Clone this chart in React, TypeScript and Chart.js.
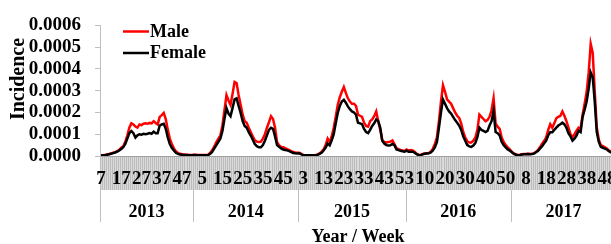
import React, { useEffect, useRef } from "react";
import { Chart, registerables } from "chart.js";

Chart.register(...registerables);

// ---- Data ----
const years = [2013, 2014, 2015, 2016, 2017];
const firstWeeks = [7, 1, 1, 1, 1];
const lastWeeks = [52, 52, 53, 52, 52];
const seriesNames = ["Male", "Female"];
const seriesColors = ["#ff0000", "#000000"];
const yMin = 0;
const yMax = 0.0006;
const yStep = 0.0001;
const xTitle = "Year / Week";
const yTitle = "Incidence";

const male2013 = [0.02e-4, 0.03e-4, 0.05e-4, 0.07e-4, 0.09e-4, 0.12e-4, 0.15e-4, 0.18e-4, 0.22e-4, 0.28e-4, 0.38e-4, 0.45e-4, 0.65e-4, 0.95e-4, 1.3e-4, 1.5e-4, 1.45e-4, 1.35e-4, 1.3e-4, 1.45e-4, 1.42e-4, 1.48e-4, 1.5e-4, 1.48e-4, 1.52e-4, 1.5e-4, 1.6e-4, 1.52e-4, 1.45e-4, 1.8e-4, 1.88e-4, 1.98e-4, 1.7e-4, 1.2e-4, 0.8e-4, 0.55e-4, 0.35e-4, 0.22e-4, 0.14e-4, 0.1e-4, 0.08e-4, 0.07e-4, 0.06e-4, 0.06e-4, 0.05e-4, 0.05e-4];
const female2013 = [0.02e-4, 0.03e-4, 0.04e-4, 0.06e-4, 0.08e-4, 0.1e-4, 0.13e-4, 0.16e-4, 0.2e-4, 0.25e-4, 0.32e-4, 0.4e-4, 0.55e-4, 0.8e-4, 1.05e-4, 1.15e-4, 1.05e-4, 0.85e-4, 0.95e-4, 1.0e-4, 0.98e-4, 1.02e-4, 1.0e-4, 1.02e-4, 1.05e-4, 1.02e-4, 1.12e-4, 1.05e-4, 1.05e-4, 1.4e-4, 1.45e-4, 1.48e-4, 1.25e-4, 0.85e-4, 0.55e-4, 0.38e-4, 0.25e-4, 0.15e-4, 0.1e-4, 0.07e-4, 0.06e-4, 0.05e-4, 0.05e-4, 0.04e-4, 0.04e-4, 0.04e-4];

const male2014 = [0.06e-4, 0.06e-4, 0.05e-4, 0.05e-4, 0.05e-4, 0.05e-4, 0.05e-4, 0.06e-4, 0.15e-4, 0.27e-4, 0.45e-4, 0.64e-4, 0.8e-4, 0.95e-4, 1.4e-4, 2.1e-4, 2.8e-4, 2.55e-4, 2.35e-4, 2.85e-4, 3.4e-4, 3.35e-4, 2.8e-4, 2.35e-4, 1.9e-4, 1.6e-4, 1.53e-4, 1.3e-4, 1.1e-4, 0.9e-4, 0.72e-4, 0.66e-4, 0.64e-4, 0.66e-4, 0.8e-4, 1.0e-4, 1.3e-4, 1.55e-4, 1.83e-4, 1.7e-4, 1.3e-4, 0.64e-4, 0.5e-4, 0.42e-4, 0.4e-4, 0.36e-4, 0.32e-4, 0.27e-4, 0.22e-4, 0.18e-4, 0.16e-4, 0.15e-4];
const female2014 = [0.05e-4, 0.04e-4, 0.04e-4, 0.04e-4, 0.04e-4, 0.04e-4, 0.04e-4, 0.05e-4, 0.1e-4, 0.2e-4, 0.35e-4, 0.5e-4, 0.65e-4, 0.8e-4, 1.15e-4, 1.7e-4, 2.2e-4, 1.95e-4, 1.83e-4, 2.2e-4, 2.6e-4, 2.65e-4, 2.3e-4, 1.98e-4, 1.6e-4, 1.38e-4, 1.3e-4, 1.1e-4, 0.94e-4, 0.75e-4, 0.55e-4, 0.45e-4, 0.4e-4, 0.4e-4, 0.5e-4, 0.7e-4, 0.95e-4, 1.2e-4, 1.3e-4, 1.25e-4, 0.9e-4, 0.5e-4, 0.42e-4, 0.35e-4, 0.3e-4, 0.28e-4, 0.26e-4, 0.22e-4, 0.18e-4, 0.14e-4, 0.12e-4, 0.11e-4];

const male2015 = [0.15e-4, 0.1e-4, 0.04e-4, 0.04e-4, 0.04e-4, 0.04e-4, 0.04e-4, 0.04e-4, 0.05e-4, 0.07e-4, 0.12e-4, 0.2e-4, 0.3e-4, 0.5e-4, 0.8e-4, 0.64e-4, 0.9e-4, 1.3e-4, 1.8e-4, 2.35e-4, 2.7e-4, 2.95e-4, 3.17e-4, 2.9e-4, 2.65e-4, 2.5e-4, 2.4e-4, 2.4e-4, 2.3e-4, 1.9e-4, 1.85e-4, 1.8e-4, 1.53e-4, 1.38e-4, 1.35e-4, 1.6e-4, 1.68e-4, 1.83e-4, 2.05e-4, 1.6e-4, 1.2e-4, 0.71e-4, 0.65e-4, 0.62e-4, 0.64e-4, 0.66e-4, 0.71e-4, 0.55e-4, 0.36e-4, 0.32e-4, 0.28e-4, 0.25e-4, 0.22e-4];
const female2015 = [0.12e-4, 0.08e-4, 0.03e-4, 0.03e-4, 0.03e-4, 0.03e-4, 0.03e-4, 0.03e-4, 0.03e-4, 0.05e-4, 0.1e-4, 0.15e-4, 0.25e-4, 0.38e-4, 0.57e-4, 0.49e-4, 0.72e-4, 1.0e-4, 1.5e-4, 1.98e-4, 2.3e-4, 2.5e-4, 2.58e-4, 2.45e-4, 2.28e-4, 2.15e-4, 2.05e-4, 2.0e-4, 1.9e-4, 1.53e-4, 1.5e-4, 1.46e-4, 1.24e-4, 1.1e-4, 1.05e-4, 1.2e-4, 1.38e-4, 1.5e-4, 1.68e-4, 1.6e-4, 1.3e-4, 0.7e-4, 0.57e-4, 0.5e-4, 0.48e-4, 0.49e-4, 0.55e-4, 0.5e-4, 0.3e-4, 0.27e-4, 0.24e-4, 0.22e-4, 0.2e-4];

const male2016 = [0.3e-4, 0.25e-4, 0.27e-4, 0.25e-4, 0.2e-4, 0.1e-4, 0.05e-4, 0.05e-4, 0.1e-4, 0.12e-4, 0.13e-4, 0.14e-4, 0.2e-4, 0.34e-4, 0.55e-4, 0.86e-4, 1.6e-4, 2.5e-4, 3.25e-4, 2.95e-4, 2.6e-4, 2.5e-4, 2.4e-4, 2.2e-4, 2.0e-4, 1.85e-4, 1.75e-4, 1.5e-4, 1.1e-4, 0.85e-4, 0.68e-4, 0.62e-4, 0.62e-4, 0.7e-4, 0.85e-4, 1.2e-4, 1.9e-4, 1.8e-4, 1.7e-4, 1.6e-4, 1.65e-4, 1.8e-4, 2.1e-4, 2.65e-4, 1.5e-4, 1.35e-4, 1.25e-4, 0.85e-4, 0.65e-4, 0.5e-4, 0.4e-4, 0.3e-4];
const female2016 = [0.25e-4, 0.2e-4, 0.2e-4, 0.2e-4, 0.15e-4, 0.08e-4, 0.04e-4, 0.04e-4, 0.08e-4, 0.1e-4, 0.11e-4, 0.12e-4, 0.16e-4, 0.25e-4, 0.4e-4, 0.64e-4, 1.3e-4, 2.0e-4, 2.6e-4, 2.4e-4, 2.2e-4, 2.05e-4, 1.95e-4, 1.8e-4, 1.65e-4, 1.53e-4, 1.4e-4, 1.2e-4, 0.9e-4, 0.7e-4, 0.5e-4, 0.44e-4, 0.42e-4, 0.48e-4, 0.6e-4, 0.86e-4, 1.3e-4, 1.2e-4, 1.15e-4, 1.1e-4, 1.15e-4, 1.4e-4, 1.6e-4, 2.08e-4, 1.1e-4, 1.05e-4, 0.95e-4, 0.65e-4, 0.5e-4, 0.4e-4, 0.3e-4, 0.25e-4];

const male2017 = [0.2e-4, 0.12e-4, 0.08e-4, 0.05e-4, 0.06e-4, 0.08e-4, 0.09e-4, 0.09e-4, 0.1e-4, 0.09e-4, 0.1e-4, 0.13e-4, 0.2e-4, 0.28e-4, 0.42e-4, 0.57e-4, 0.7e-4, 0.86e-4, 1.2e-4, 1.46e-4, 1.3e-4, 1.5e-4, 1.73e-4, 1.8e-4, 1.85e-4, 2.05e-4, 1.85e-4, 1.6e-4, 1.3e-4, 1.0e-4, 0.86e-4, 1.0e-4, 1.16e-4, 1.3e-4, 1.25e-4, 1.9e-4, 2.4e-4, 2.95e-4, 3.84e-4, 5.15e-4, 4.73e-4, 2.95e-4, 1.3e-4, 0.75e-4, 0.5e-4, 0.45e-4, 0.4e-4, 0.34e-4, 0.25e-4, 0.19e-4, 0.16e-4, 0.13e-4];
const female2017 = [0.17e-4, 0.1e-4, 0.06e-4, 0.04e-4, 0.05e-4, 0.07e-4, 0.08e-4, 0.08e-4, 0.09e-4, 0.08e-4, 0.09e-4, 0.11e-4, 0.17e-4, 0.24e-4, 0.35e-4, 0.45e-4, 0.58e-4, 0.71e-4, 0.95e-4, 1.09e-4, 1.09e-4, 1.2e-4, 1.3e-4, 1.4e-4, 1.46e-4, 1.53e-4, 1.45e-4, 1.3e-4, 1.05e-4, 0.9e-4, 0.71e-4, 0.8e-4, 0.94e-4, 1.16e-4, 1.1e-4, 1.8e-4, 2.13e-4, 2.5e-4, 3.1e-4, 3.84e-4, 3.62e-4, 2.5e-4, 1.1e-4, 0.65e-4, 0.42e-4, 0.38e-4, 0.34e-4, 0.3e-4, 0.22e-4, 0.17e-4, 0.14e-4, 0.11e-4];

const maleSeries = [male2013, male2014, male2015, male2016, male2017];
const femaleSeries = [female2013, female2014, female2015, female2016, female2017];

// categories
const weekNums: number[] = [];
const categories: string[] = [];
years.forEach((yr, k) => {
  for (let w = firstWeeks[k]; w <= lastWeeks[k]; w++) {
    weekNums.push(w);
    categories.push(`${yr}-${w}`);
  }
});

const FONT = "'Liberation Serif', 'Times New Roman', serif";
const PLOT_LEFT = 100;
const PLOT_TOP = 21;
const X_AXIS_H = 88;
const BAND = 34;

const decor = {
  id: "decor",
  beforeDraw(chart: any) {
    const { ctx, chartArea } = chart;
    ctx.save();
    ctx.fillStyle = "#dadada";
    ctx.fillRect(chartArea.left, chartArea.bottom, chartArea.right - chartArea.left, BAND);
    ctx.restore();
  },
  afterDraw(chart: any) {
    const { ctx, chartArea } = chart;
    const x = chart.scales.x;
    const step = x.getPixelForValue(1) - x.getPixelForValue(0);
    const bandBottom = chartArea.bottom + BAND;
    ctx.save();
    ctx.font = `bold 18px ${FONT}`;
    ctx.fillStyle = "#000";
    ctx.textAlign = "center";
    ctx.textBaseline = "middle";
    ctx.strokeStyle = "#bfbfbf";
    ctx.lineWidth = 1;
    let idx = 0;
    years.forEach((yr, k) => {
      const n = lastWeeks[k] - firstWeeks[k] + 1;
      const x0 = x.getPixelForValue(idx) - step / 2;
      const x1 = x.getPixelForValue(idx + n - 1) + step / 2;
      const sx = Math.round(x0) + 0.5;
      ctx.beginPath();
      ctx.moveTo(sx, bandBottom);
      ctx.lineTo(sx, bandBottom + 32);
      ctx.stroke();
      ctx.fillText(String(yr), (x0 + x1) / 2, bandBottom + 22.5);
      idx += n;
    });
    // y title
    ctx.save();
    ctx.font = `bold 20px ${FONT}`;
    ctx.translate(19, 79);
    ctx.rotate(-Math.PI / 2);
    ctx.fillText(yTitle, 0, 0);
    ctx.restore();
    // legend
    ctx.font = `bold 18px ${FONT}`;
    ctx.textAlign = "left";
    seriesNames.forEach((name, i) => {
      const ly = 31.5 + i * 21.5;
      ctx.strokeStyle = seriesColors[i];
      ctx.lineWidth = 2.5;
      ctx.beginPath();
      ctx.moveTo(123, ly);
      ctx.lineTo(149, ly);
      ctx.stroke();
      ctx.fillStyle = "#000";
      ctx.fillText(name, 150, ly + 0.5);
    });
    ctx.restore();
  },
};

export default function App() {
  const ref = useRef<HTMLCanvasElement>(null);
  useEffect(() => {
    if (!ref.current) return;
    const chart = new Chart(ref.current, {
      type: "line",
      data: {
        labels: categories,
        datasets: [
          {
            label: seriesNames[0],
            data: maleSeries.flat(),
            borderColor: seriesColors[0],
            backgroundColor: seriesColors[0],
            borderWidth: 2.5,
            pointRadius: 0,
            tension: 0,
            order: 1,
          },
          {
            label: seriesNames[1],
            data: femaleSeries.flat(),
            borderColor: seriesColors[1],
            backgroundColor: seriesColors[1],
            borderWidth: 2.5,
            pointRadius: 0,
            tension: 0,
            order: 0,
          },
        ],
      },
      options: {
        animation: false,
        responsive: false,
        devicePixelRatio: 1,
        layout: { padding: { top: PLOT_TOP, left: 0, right: 0, bottom: 0 } },
        plugins: { legend: { display: false }, tooltip: { enabled: false } },
        scales: {
          x: {
            type: "category",
            offset: true,
            afterFit: (s: any) => {
              s.height = X_AXIS_H;
            },
            grid: {
              offset: true,
              drawOnChartArea: false,
              drawTicks: true,
              tickLength: BAND,
              color: "#bcbcbc",
              lineWidth: 1,
            },
            border: { display: true, color: "#a0a0a0", width: 1 },
            ticks: {
              autoSkip: false,
              maxRotation: 0,
              minRotation: 0,
              padding: -22,
              color: "#000",
              font: { family: FONT, size: 19, weight: "bold" },
              callback: (_v: any, i: number) => (i % 10 === 0 ? String(weekNums[i]) : ""),
            },
            title: {
              display: true,
              text: xTitle,
              color: "#000",
              font: { family: FONT, size: 18, weight: "bold" },
              padding: { top: 0, bottom: -4 },
            },
          },
          y: {
            min: yMin,
            max: yMax,
            afterFit: (s: any) => {
              s.width = PLOT_LEFT;
            },
            grid: {
              drawOnChartArea: false,
              drawTicks: true,
              tickLength: 5,
              color: "#bfbfbf",
            },
            border: { display: true, color: "#bfbfbf", width: 1 },
            ticks: {
              stepSize: yStep,
              autoSkip: false,
              padding: 14,
              color: "#000",
              font: { family: FONT, size: 19, weight: "bold" },
              callback: (v: any) => Number(v).toFixed(4),
            },
          },
        },
      },
      plugins: [decor],
    });
    return () => chart.destroy();
  }, []);
  return (
    <div
      style={{
        position: "absolute",
        left: 0,
        top: 0,
        width: 611,
        height: 244,
        overflow: "hidden",
        background: "#fff",
      }}
    >
      <canvas ref={ref} width={616} height={244} style={{ width: 616, height: 244, display: "block" }} />
    </div>
  );
}
